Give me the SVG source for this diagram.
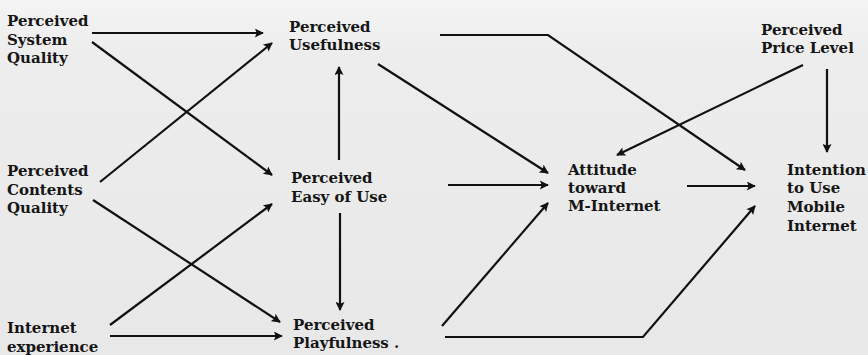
<svg xmlns="http://www.w3.org/2000/svg" width="868" height="355" viewBox="0 0 868 355">
<defs>
<marker id="ah" viewBox="0 0 10 10" refX="9" refY="5" markerWidth="12" markerHeight="9" markerUnits="userSpaceOnUse" orient="auto">
<path d="M0,0 L10,5 L0,10 L2,5 z" fill="#111"/>
</marker>
<linearGradient id="bg" x1="0" y1="0" x2="0" y2="1">
<stop offset="0" stop-color="#f4f4f4"/>
<stop offset="0.15" stop-color="#ededed"/>
<stop offset="1" stop-color="#e8e8e8"/>
</linearGradient>
</defs>
<style>
text{font-family:"DejaVu Serif","Liberation Serif",serif;font-weight:bold;font-size:15px;fill:#151515}
.c{fill:none;stroke:#111;stroke-width:2.2}
.a{marker-end:url(#ah)}
</style>
<rect width="868" height="355" fill="url(#bg)"/>
<g id="psq"><text x="7" y="26">Perceived</text><text x="7" y="45">System</text><text x="7" y="63">Quality</text></g>
<g id="pcq"><text x="7" y="176">Perceived</text><text x="7" y="195">Contents</text><text x="7" y="213">Quality</text></g>
<g id="ie"><text x="7" y="333">Internet</text><text x="7" y="352">experience</text></g>
<g id="pu"><text x="289" y="32">Perceived</text><text x="289" y="50">Usefulness</text></g>
<g id="peou"><text x="291" y="183">Perceived</text><text x="291" y="202">Easy of Use</text></g>
<g id="ppl"><text x="293" y="330">Perceived</text><text x="293" y="348">Playfulness .</text></g>
<g id="att"><text x="568" y="175">Attitude</text><text x="568" y="193">toward</text><text x="568" y="211">M-Internet</text></g>
<g id="ppr"><text x="761" y="35">Perceived</text><text x="761" y="53">Price Level</text></g>
<g id="int"><text x="787" y="175">Intention</text><text x="787" y="193">to Use</text><text x="787" y="212">Mobile</text><text x="787" y="231">Internet</text></g>
<g id="connectors">
<path class="c a" d="M92,33 L263,33"/>
<path class="c a" d="M92,42 L272,175"/>
<path class="c a" d="M100,182 L272,43"/>
<path class="c a" d="M93,200 L280,322"/>
<path class="c a" d="M110,325 L272,204"/>
<path class="c a" d="M110,336 L282,336"/>
<path class="c a" d="M339,160 L339,67"/>
<path class="c a" d="M340,213 L340,310"/>
<path class="c a" d="M378,64 L548,173"/>
<path class="c a" d="M448,185 L548,185"/>
<path class="c a" d="M442,326 L548,203"/>
<path class="c a" d="M440,35 L548,35 L745,170"/>
<path class="c a" d="M803,65 L617,155"/>
<path class="c a" d="M827,69 L827,152"/>
<path class="c a" d="M687,186 L755,186"/>
<path class="c a" d="M445,337 L643,337 L755,206"/>
</g>
</svg>
